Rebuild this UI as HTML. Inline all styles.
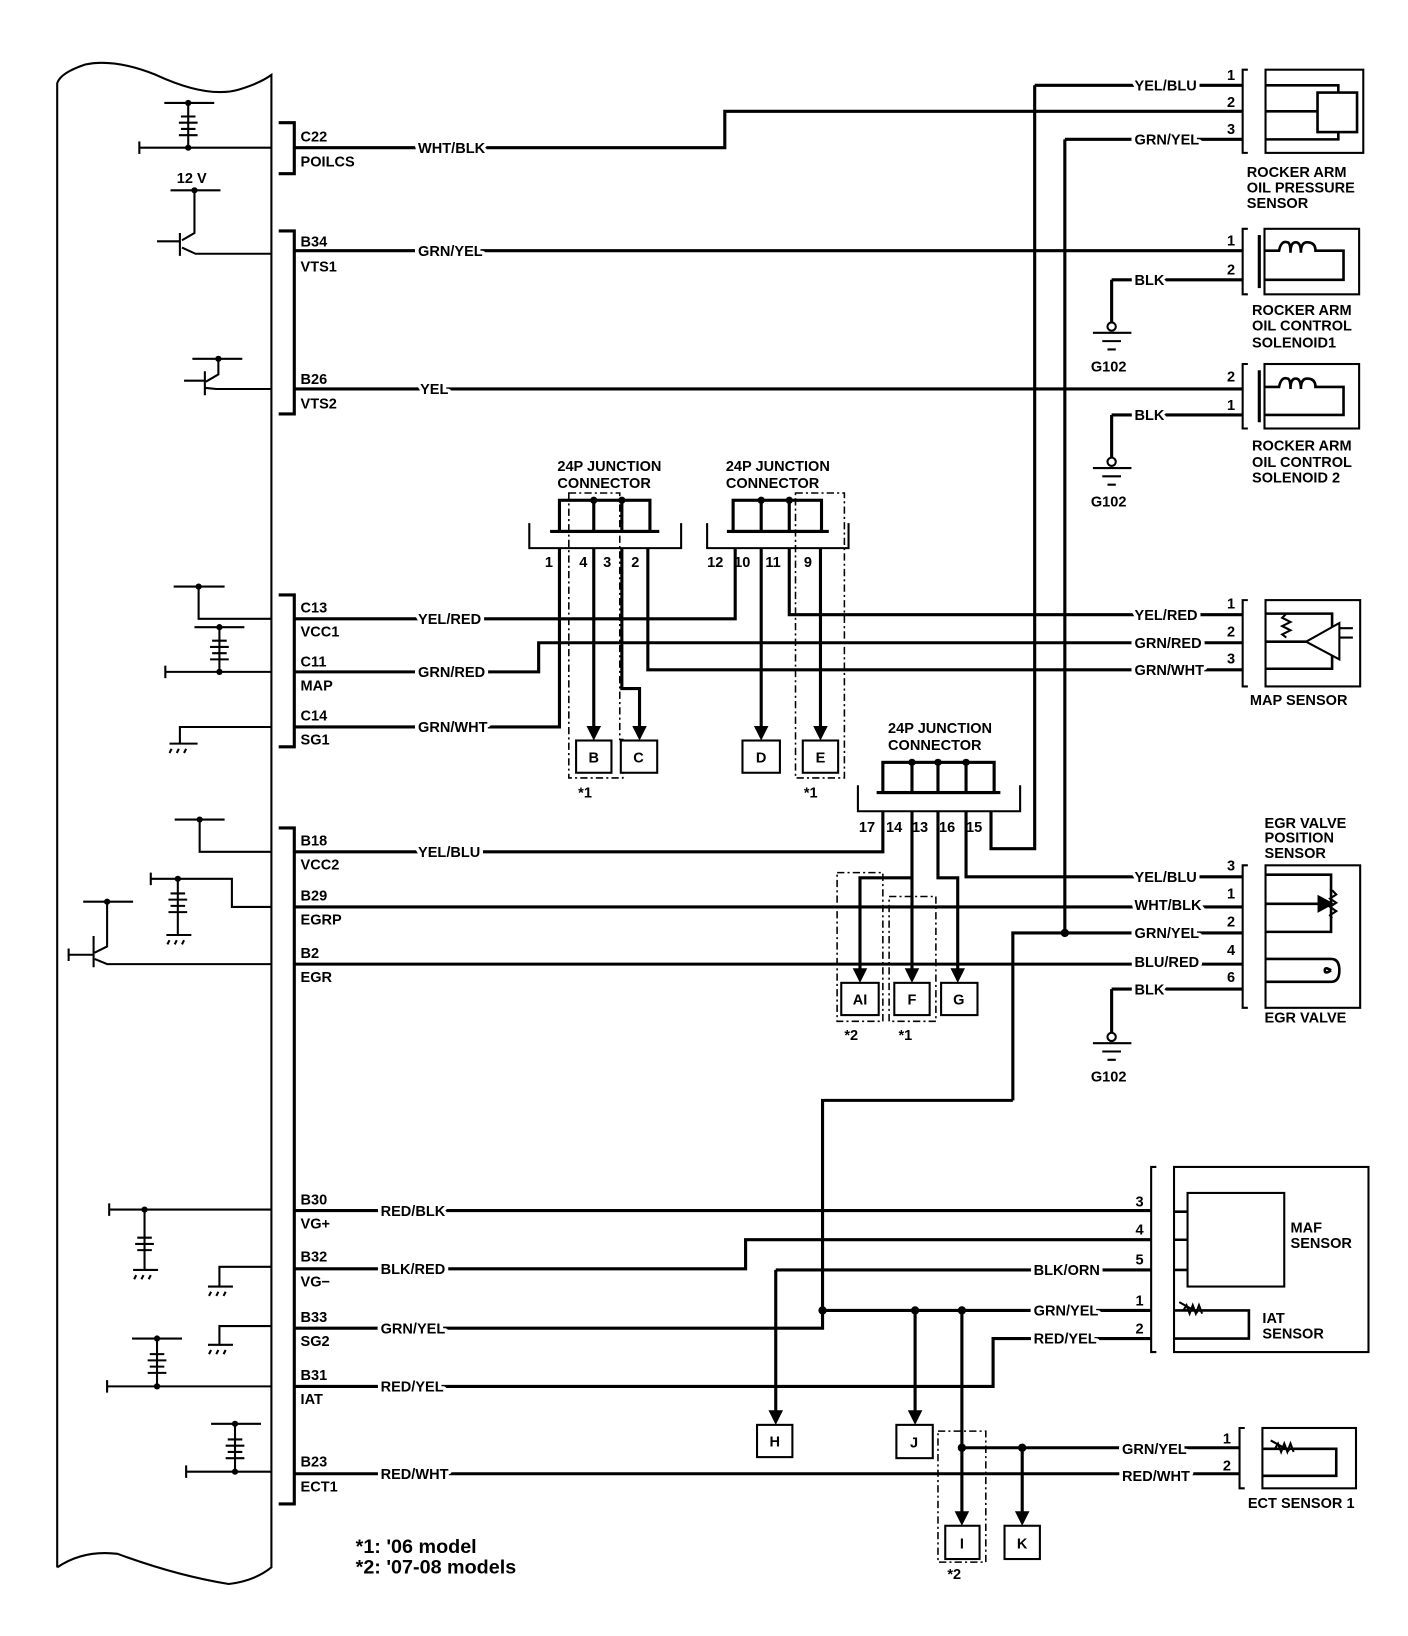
<!DOCTYPE html>
<html><head><meta charset="utf-8"><style>
html,body{margin:0;padding:0;background:#fff}
svg{display:block}
text{font-family:"Liberation Sans",Arial,sans-serif;font-weight:bold;fill:#000}
.l{font-size:14px;stroke:#fff;stroke-width:7px;paint-order:stroke;stroke-linejoin:round}
.t{font-size:14px}
.w{stroke:#000;stroke-width:3;fill:none}
.n{stroke:#000;stroke-width:2;fill:none}
.b{stroke:#000;stroke-width:2;fill:#fff}
.d{stroke:#000;stroke-width:1.5;fill:none;stroke-dasharray:7 3 2 3}
</style></head><body>
<svg width="1408" height="1636" viewBox="0 0 1354 1573" preserveAspectRatio="none" xmlns="http://www.w3.org/2000/svg">
<!-- ECU -->
<path class="n" d="M55,1507 V80 Q58,70 82,62 Q110,56 150,72 Q200,95 230,86 Q250,80 261,72 V1507 Q245,1520 220,1523 Q170,1515 113,1494 Q80,1490 55,1507"/>
<path class="w" d="M268,118 H283 V167 H268"/>
<path class="w" d="M268,222 H283 V398 H268"/>
<path class="w" d="M268,572 H283 V718 H268"/>
<path class="w" d="M268,796 H283 V1446 H268"/>
<g class="t">
<text x="289" y="136">C22</text><text x="289" y="160">POILCS</text>
<text x="289" y="237">B34</text><text x="289" y="261">VTS1</text>
<text x="289" y="369">B26</text><text x="289" y="393">VTS2</text>
<text x="289" y="589">C13</text><text x="289" y="612">VCC1</text>
<text x="289" y="641">C11</text><text x="289" y="664">MAP</text>
<text x="289" y="693">C14</text><text x="289" y="716">SG1</text>
<text x="289" y="813">B18</text><text x="289" y="836">VCC2</text>
<text x="289" y="866">B29</text><text x="289" y="889">EGRP</text>
<text x="289" y="921">B2</text><text x="289" y="944">EGR</text>
<text x="289" y="1158">B30</text><text x="289" y="1181">VG+</text>
<text x="289" y="1213">B32</text><text x="289" y="1237">VG−</text>
<text x="289" y="1271">B33</text><text x="289" y="1294">SG2</text>
<text x="289" y="1327">B31</text><text x="289" y="1350">IAT</text>
<text x="289" y="1410">B23</text><text x="289" y="1434">ECT1</text>
<text x="170" y="176">12 V</text>
</g>
<g class="n">
<path d="M134,142 H261 M181,99 V142 M158,99 H206 M174,112 H188 M172,118 H190 M174,124 H188 M172,130 H190"/>
<path d="M134,136 V148"/>
<path d="M164,183 H212 M187,183 V224 L175,231 M173,224 V246 M151,232 H173 M175,238 L188,244 H261"/>
<path d="M185,345 H233 M210,345 V360 L198,367 M197,357 V380 M177,366 H197 M198,373 L208,374 H261"/>
<path d="M167,564 H216 M191,564 V595 H261"/>
<path d="M187,603 H235 M211,603 V646 M159,646 H261 M204,616 H218 M202,622 H220 M204,628 H218 M202,634 H220 M159,640 V652"/>
<path d="M261,699 H173 V715 M163,715 H190 M165,720 l-2,4 M172,720 l-2,4 M179,720 l-2,4"/>
<path d="M168,788 H216 M192,788 V819 H261"/>
<path d="M261,872 H223 V845 H145 M145,839 V851 M171,845 V899 M164,859 H178 M162,865 H180 M164,871 H178 M162,877 H180 M160,899 H184 M163,904 l-2,4 M170,904 l-2,4 M177,904 l-2,4"/>
<path d="M80,867 H128 M103,867 V910 L91,916 M90,900 V930 M66,918 H90 M91,922 L103,927 H261 M66,912 V924"/>
<path d="M105,1163 H261 M105,1157 V1169 M139,1163 V1221 M132,1190 H146 M130,1196 H148 M132,1202 H146 M128,1221 H152 M131,1226 l-2,4 M138,1226 l-2,4 M145,1226 l-2,4"/>
<path d="M261,1218 H211 V1237 M200,1237 H224 M203,1242 l-2,4 M210,1242 l-2,4 M217,1242 l-2,4"/>
<path d="M261,1275 H211 V1293 M200,1293 H224 M203,1298 l-2,4 M210,1298 l-2,4 M217,1298 l-2,4"/>
<path d="M103,1333 H261 M103,1327 V1339 M127,1287 H175 M151,1287 V1333 M144,1302 H158 M142,1308 H160 M144,1314 H158 M142,1320 H160"/>
<path d="M179,1415 H261 M179,1409 V1421 M203,1369 H251 M226,1369 V1415 M219,1384 H233 M217,1390 H235 M219,1396 H233 M217,1402 H235"/>
</g>
<g fill="#000"><circle cx="181" cy="99" r="3"/><circle cx="181" cy="142" r="3"/><circle cx="187" cy="183" r="3"/><circle cx="210" cy="345" r="3"/><circle cx="191" cy="564" r="3"/><circle cx="211" cy="603" r="3"/><circle cx="211" cy="646" r="3"/><circle cx="192" cy="788" r="3"/><circle cx="171" cy="845" r="3"/><circle cx="103" cy="867" r="3"/><circle cx="139" cy="1163" r="3"/><circle cx="151" cy="1287" r="3"/><circle cx="151" cy="1333" r="3"/><circle cx="226" cy="1369" r="3"/><circle cx="226" cy="1415" r="3"/></g>

<g class="w">
<path d="M283,142 H697 V107 H1195"/>
<path d="M995,82 H1195 M995,82 V816 H953 V780"/>
<path d="M1024,134 H1195 M1024,134 V897"/>
<path d="M283,241 H1195"/>
<path d="M283,374 H1195"/>
<path d="M283,595 H707 V527"/>
<path d="M759,527 V591 H1195"/>
<path d="M283,646 H518 V618 H1195"/>
<path d="M283,699 H538 V527"/>
<path d="M623,527 V644 H1195"/>
<path d="M571,527 V702"/>
<path d="M598,527 V662 H615 V702"/>
<path d="M732,527 V702"/>
<path d="M789,527 V702"/>
<path d="M283,819 H849 V780"/>
<path d="M283,872 H1195"/>
<path d="M283,927 H1195"/>
<path d="M877,780 V935"/>
<path d="M877,844 H827 V935"/>
<path d="M902,780 V844 H921 V935"/>
<path d="M929,780 V843 H1195"/>
<path d="M974,1058 V897 H1195"/>
<path d="M1069,951 H1195 M1069,951 V993"/>
<path d="M974,1058 H791 V1260"/>
<path d="M283,1164 H1107"/>
<path d="M283,1220 H717 V1192 H1107"/>
<path d="M746,1221 H1107 M746,1221 V1360"/>
<path d="M283,1277 H791 V1260 H1107"/>
<path d="M880,1260 V1360"/>
<path d="M925,1260 V1457"/>
<path d="M283,1333 H955 V1287 H1107"/>
<path d="M283,1417 H1192"/>
<path d="M925,1392 H1192"/>
<path d="M983,1392 V1457"/>
<path d="M1069,269 H1195 M1069,269 V310"/>
<path d="M1069,399 H1195 M1069,399 V440"/>
</g>
<!-- arrowheads -->
<g fill="#000">
<polygon points="564,698 578,698 571,712"/>
<polygon points="608,698 622,698 615,712"/>
<polygon points="725,698 739,698 732,712"/>
<polygon points="782,698 796,698 789,712"/>
<polygon points="820,931 834,931 827,945"/>
<polygon points="870,931 884,931 877,945"/>
<polygon points="914,931 928,931 921,945"/>
<polygon points="739,1356 753,1356 746,1370"/>
<polygon points="873,1356 887,1356 880,1370"/>
<polygon points="918,1453 932,1453 925,1467"/>
<polygon points="976,1453 990,1453 983,1467"/>
</g>
<g fill="#000"><circle cx="1024" cy="897" r="4"/><circle cx="791" cy="1260" r="4"/><circle cx="880" cy="1260" r="4"/><circle cx="925" cy="1260" r="4"/><circle cx="925" cy="1392" r="4"/><circle cx="983" cy="1392" r="4"/></g>

<g class="n">
<circle cx="1069" cy="314" r="4" fill="#fff"/><path d="M1051,320 H1088 M1060,328 H1078 M1065,336 H1073"/>
<circle cx="1069" cy="444" r="4" fill="#fff"/><path d="M1051,450 H1088 M1060,458 H1078 M1065,466 H1073"/>
<circle cx="1069" cy="997" r="4" fill="#fff"/><path d="M1051,1003 H1088 M1060,1011 H1078 M1065,1019 H1073"/>
</g>
<g class="t"><text x="1049" y="357">G102</text><text x="1049" y="487">G102</text><text x="1049" y="1040">G102</text></g>

<g class="n">
<rect x="538" y="481" width="87" height="30" stroke-width="3"/><path d="M529,511 H634 M571,481 V511 M598,481 V511" stroke-width="3"/>
<path d="M509,503 V527 H655 V503"/>
<rect x="705" y="481" width="85" height="30" stroke-width="3"/><path d="M699,511 H797 M732,481 V511 M759,481 V511" stroke-width="3"/>
<path d="M680,503 V527 H816 V503"/>
<rect x="849" y="733" width="107" height="29" stroke-width="3"/><path d="M843,762 H962 M877,733 V762 M902,733 V762 M929,733 V762" stroke-width="3"/>
<path d="M825,755 V780 H981 V755"/>
</g>
<g fill="#000"><circle cx="571" cy="481" r="3.5"/><circle cx="598" cy="481" r="3.5"/><circle cx="732" cy="481" r="3.5"/><circle cx="759" cy="481" r="3.5"/><circle cx="877" cy="733" r="3.5"/><circle cx="902" cy="733" r="3.5"/><circle cx="929" cy="733" r="3.5"/></g>
<path class="d" d="M547,474 H596 V711 H599 V748 H547 Z"/>
<path class="d" d="M765,474 H812 V748 H765 Z"/>
<path class="d" d="M805,839 H849 V982 H805 Z"/>
<path class="d" d="M855,862 H900 V982 H855 Z"/>
<path class="d" d="M902,1376 H948 V1502 H902 Z"/>
<g class="t">
<text x="536" y="453">24P JUNCTION</text><text x="536" y="469">CONNECTOR</text>
<text x="698" y="453">24P JUNCTION</text><text x="698" y="469">CONNECTOR</text>
<text x="854" y="705">24P JUNCTION</text><text x="854" y="721">CONNECTOR</text>
<text x="524" y="545">1</text><text x="557" y="545">4</text><text x="580" y="545">3</text><text x="607" y="545">2</text>
<text x="680" y="545">12</text><text x="706" y="545">10</text><text x="736" y="545">11</text><text x="773" y="545">9</text>
<text x="826" y="800">17</text><text x="852" y="800">14</text><text x="877" y="800">13</text><text x="903" y="800">16</text><text x="929" y="800">15</text>
<text x="556" y="767">*1</text><text x="773" y="767">*1</text><text x="812" y="1000">*2</text><text x="864" y="1000">*1</text><text x="911" y="1518">*2</text>
</g>
<g class="b">
<rect x="554" y="712" width="34" height="31"/><rect x="597" y="712" width="35" height="31"/>
<rect x="714" y="712" width="36" height="31"/><rect x="772" y="712" width="34" height="31"/>
<rect x="809" y="945" width="36" height="31"/><rect x="860" y="945" width="34" height="31"/><rect x="905" y="945" width="35" height="31"/>
<rect x="728" y="1370" width="34" height="31"/><rect x="862" y="1370" width="35" height="32"/>
<rect x="909" y="1467" width="33" height="32"/><rect x="966" y="1467" width="34" height="32"/>
</g>
<g class="t" text-anchor="middle">
<text x="571" y="733">B</text><text x="614" y="733">C</text><text x="732" y="733">D</text><text x="789" y="733">E</text>
<text x="827" y="966">AI</text><text x="877" y="966">F</text><text x="922" y="966">G</text>
<text x="745" y="1391">H</text><text x="879" y="1392">J</text><text x="925" y="1489">I</text><text x="983" y="1489">K</text>
</g>

<g class="n">
<path d="M1200,67 H1195 V147 H1200" stroke-width="2"/>
<rect x="1217" y="67" width="94" height="80"/>
<path d="M1217,82 H1287 V89 M1217,107 H1267 M1217,134 H1287 V127" stroke-width="2.5"/>
<rect x="1267" y="89" width="38" height="38" stroke-width="2.5"/>
<path d="M1200,220 H1195 V283 H1200"/>
<rect x="1216" y="220" width="91" height="63"/>
<path d="M1211,226 V277" stroke-width="3"/>
<path d="M1216,241 H1230 q2,-10 8,-8 q3,0 3,10 q0,-10 5,-10 q5,0 5,10 q0,-10 6,-10 q8,0 8,8 H1292 V269 H1216" stroke-width="2.5"/>
<path d="M1200,350 H1195 V412 H1200"/>
<rect x="1216" y="350" width="91" height="62"/>
<path d="M1211,356 V406" stroke-width="3"/>
<path d="M1216,372 H1230 q2,-10 8,-8 q3,0 3,10 q0,-10 5,-10 q5,0 5,10 q0,-10 6,-10 q8,0 8,8 H1292 V399 H1216" stroke-width="2.5"/>
<path d="M1200,577 H1195 V660 H1200"/>
<rect x="1217" y="577" width="91" height="83"/>
<path d="M1217,590 H1281 V603 M1217,617 H1256 M1217,643 H1281 V630" stroke-width="2.5"/>
<path d="M1237,590 l-4,4 l8,4 l-8,4 l8,4 l-8,4 l4,3"/>
<path d="M1256,617 L1288,599 V634 Z M1288,604 H1301 M1288,613 H1301"/>
<path d="M1200,832 H1195 V969 H1200"/>
<rect x="1217" y="832" width="91" height="137"/>
<path d="M1217,841 H1280 V896 H1217" stroke-width="2.5"/>
<path d="M1217,869 H1270" stroke-width="2.5"/>
<path d="M1268,862 L1281,869 L1268,876 Z" fill="#000"/>
<path d="M1281,856 l4,4 l-6,4 l6,4 l-6,4 l6,4 l-6,4 l2,3"/>
<path d="M1217,922 H1280 q8,0 8,11 q0,11 -8,11 H1217 M1280,933 q-6,-4 -6,0 q0,4 6,0" stroke-width="2.5"/>
<path d="M1112,1122 H1107 V1300 H1112"/>
<rect x="1129" y="1122" width="187" height="178"/>
<rect x="1142" y="1147" width="93" height="90"/>
<path d="M1129,1165 H1142 M1129,1192 H1142 M1129,1221 H1142" stroke-width="2.5"/>
<path d="M1129,1260 H1201 V1287 H1129" stroke-width="2.5"/>
<path d="M1138,1260 l3,-5 l3,8 l3,-8 l3,8 l3,-8 l3,8 M1134,1252 l18,10"/>
<path d="M1197,1373 H1192 V1431 H1197"/>
<rect x="1214" y="1373" width="90" height="58"/>
<path d="M1214,1393 H1285 V1419 H1214" stroke-width="2.5"/>
<path d="M1226,1393 l3,-5 l3,8 l3,-8 l3,8 l3,-8 l3,8 M1222,1385 l18,10"/>
</g>
<g class="t">
<text x="1180" y="77">1</text><text x="1180" y="103">2</text><text x="1180" y="129">3</text>
<text x="1199" y="170">ROCKER ARM</text><text x="1199" y="185">OIL PRESSURE</text><text x="1199" y="200">SENSOR</text>
<text x="1180" y="236">1</text><text x="1180" y="264">2</text>
<text x="1204" y="303">ROCKER ARM</text><text x="1204" y="318">OIL CONTROL</text><text x="1204" y="334">SOLENOID1</text>
<text x="1180" y="367">2</text><text x="1180" y="394">1</text>
<text x="1204" y="433">ROCKER ARM</text><text x="1204" y="449">OIL CONTROL</text><text x="1204" y="464">SOLENOID 2</text>
<text x="1180" y="585">1</text><text x="1180" y="612">2</text><text x="1180" y="638">3</text>
<text x="1202" y="678">MAP SENSOR</text>
<text x="1216" y="796">EGR VALVE</text><text x="1216" y="810">POSITION</text><text x="1216" y="825">SENSOR</text>
<text x="1180" y="837">3</text><text x="1180" y="864">1</text><text x="1180" y="891">2</text><text x="1180" y="918">4</text><text x="1180" y="944">6</text>
<text x="1216" y="983">EGR VALVE</text>
<text x="1092" y="1160">3</text><text x="1092" y="1187">4</text><text x="1092" y="1216">5</text><text x="1092" y="1255">1</text><text x="1092" y="1282">2</text>
<text x="1241" y="1185">MAF</text><text x="1241" y="1200">SENSOR</text>
<text x="1214" y="1272">IAT</text><text x="1214" y="1287">SENSOR</text>
<text x="1176" y="1388">1</text><text x="1176" y="1414">2</text>
<text x="1200" y="1450">ECT SENSOR 1</text>
</g>
<g class="l">
<text x="402" y="147">WHT/BLK</text>
<text x="402" y="246">GRN/YEL</text>
<text x="404" y="379">YEL</text>
<text x="402" y="600">YEL/RED</text>
<text x="402" y="651">GRN/RED</text>
<text x="402" y="704">GRN/WHT</text>
<text x="402" y="824">YEL/BLU</text>
<text x="366" y="1169">RED/BLK</text>
<text x="366" y="1225">BLK/RED</text>
<text x="366" y="1282">GRN/YEL</text>
<text x="366" y="1338">RED/YEL</text>
<text x="366" y="1422">RED/WHT</text>
<text x="1091" y="87">YEL/BLU</text>
<text x="1091" y="139">GRN/YEL</text>
<text x="1091" y="274">BLK</text>
<text x="1091" y="404">BLK</text>
<text x="1091" y="596">YEL/RED</text>
<text x="1091" y="623">GRN/RED</text>
<text x="1091" y="649">GRN/WHT</text>
<text x="1091" y="848">YEL/BLU</text>
<text x="1091" y="875">WHT/BLK</text>
<text x="1091" y="902">GRN/YEL</text>
<text x="1091" y="930">BLU/RED</text>
<text x="1091" y="956">BLK</text>
<text x="994" y="1226">BLK/ORN</text>
<text x="994" y="1265">GRN/YEL</text>
<text x="994" y="1292">RED/YEL</text>
<text x="1079" y="1398">GRN/YEL</text>
<text x="1079" y="1424">RED/WHT</text>
</g>
<g style="font-size:19px">
<text x="342" y="1493">*1: '06 model</text>
<text x="342" y="1513">*2: '07-08 models</text>
</g>
</svg>
</body></html>
